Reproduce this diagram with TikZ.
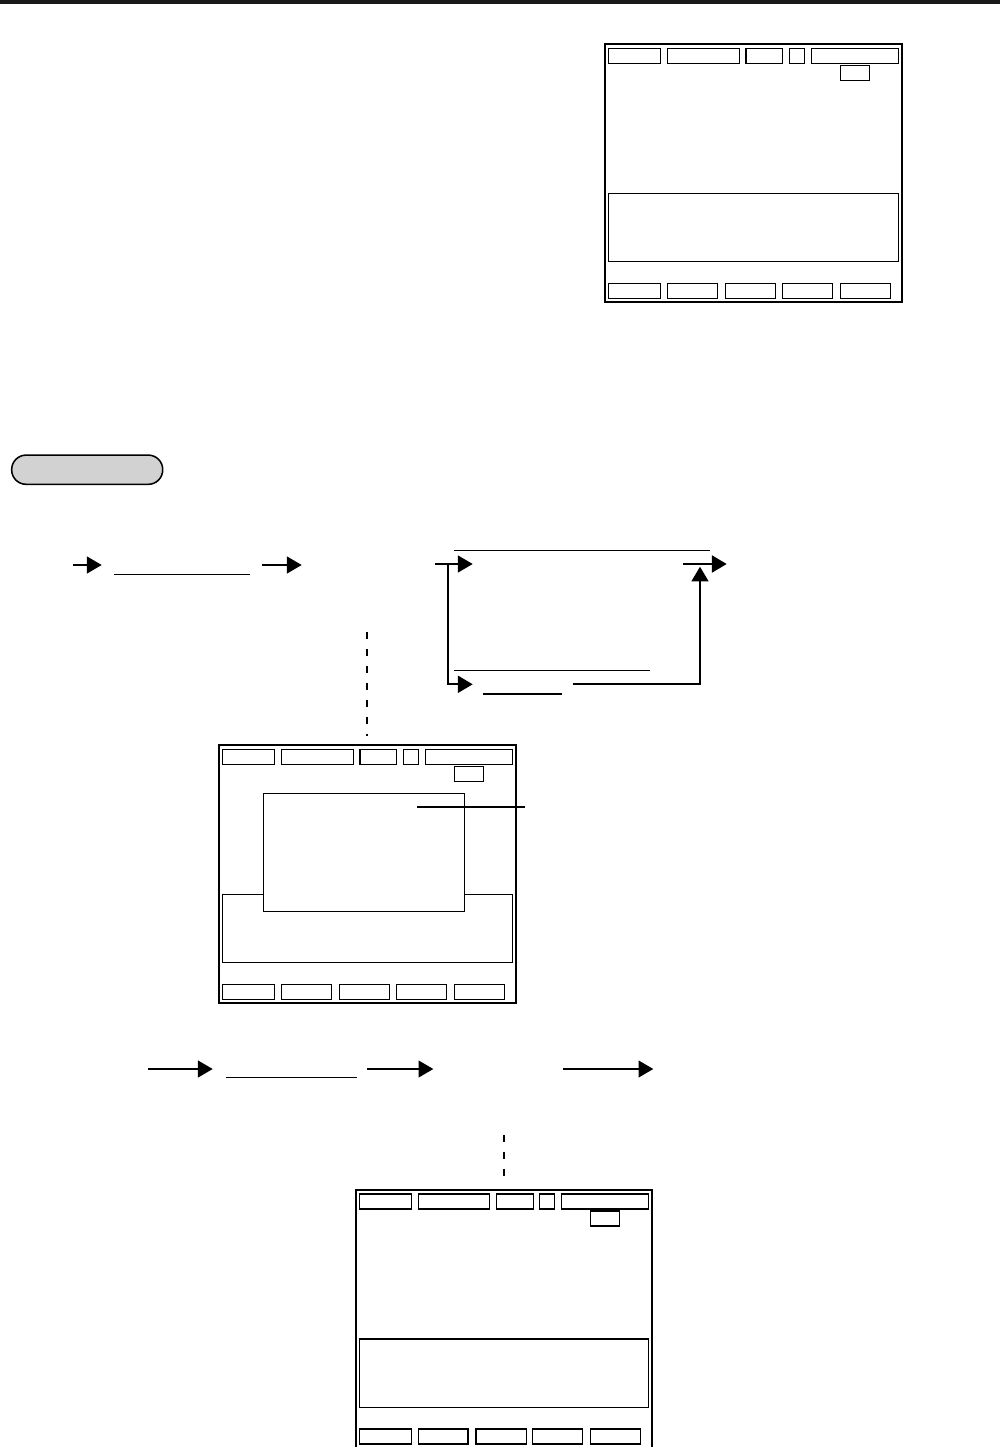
\documentclass[tikz,border=0pt]{standalone}
\usetikzlibrary{arrows.meta}

\definecolor{keygray}{RGB}{210,210,210}

% one LCD screen, drawn with its top left corner at the origin
\newcommand{\lcdpanel}{%
	\draw[panel] (0, 0) rectangle (297, 258);
	% status row
	\foreach \a/\b in {3.3/55.7, 62.3/134.3, 141/177.7, 184.3/199.3, 206.3/293.3}
		\draw[field] (\a, 4.3) rectangle (\b, 19.3);
	\draw[field] (235.3, 21.3) rectangle (264.3, 36.3);
	% message area
	\draw[field] (3.3, 149.3) rectangle (293.3, 217.7);
	% soft keys
	\foreach \a/\b in {3.3/55.7, 62.3/112.3, 120.3/170.7, 177.3/227.3, 235.3/285.3}
		\draw[field] (\a, 239.3) rectangle (\b, 254.3);
}

\begin{document}
\begin{tikzpicture}[x=0.025cm, y=-0.025cm,
		panel/.style={line width=1.5pt},
		field/.style={line width=0.8pt},
		rule/.style={line width=0.9pt},
		keybox/.style={draw, line width=1.1pt, fill=keygray, rounded corners=0.36cm,
			minimum width=3.775cm, minimum height=0.73cm, inner sep=0pt},
		flow/.style={line width=1pt, -{Triangle[length=10.5pt, width=12pt]}},
		boldflow/.style={line width=1.6pt, -{Triangle[length=10.5pt, width=12pt]}},
		guide/.style={line width=1.6pt, dash pattern=on 5pt off 7pt}]
		\useasboundingbox (0, 0) rectangle (1004, 1447);
		% header bar
		\fill[black!90] (0, 0) rectangle (1000, 3.5);
		% screens
		\begin{scope}[shift={(605, 44)}]
			\lcdpanel
		\end{scope}
		\begin{scope}[shift={(219, 745)}]
			\lcdpanel
			% pop-up window with its leader
			\draw[field, fill=white] (44.3, 48.3) rectangle (245.7, 166.7);
			\coordinate (leadA) at (198, 62);
			\coordinate (leadB) at (306, 62);
			\draw[rule] (leadA) -- (leadB);
		\end{scope}
		\begin{scope}[shift={(356.3, 1189.7)}, xscale=0.995]
			\lcdpanel
		\end{scope}
		% key button
		\node[keybox] (keybtn) at (87.2, 469.7) {};
		% first row of steps
		\coordinate (s1a) at (73.3, 565);
		\coordinate (s1b) at (101.7, 565);
		\coordinate (s1c) at (262.3, 565);
		\coordinate (s1d) at (301.7, 565);
		\draw[flow] (s1a) -- (s1b);
		\draw[rule] (114.3, 574.3) -- (250, 574.3);
		\draw[flow] (s1c) -- (s1d);
		% branch
		\coordinate (brIn) at (435, 564);
		\coordinate (brTop) at (472.7, 564);
		\coordinate (brFork) at (447.7, 564);
		\coordinate (brLow) at (472.7, 684.3);
		\coordinate (brBack) at (572.7, 684.3);
		\coordinate (brUp) at (700, 566.7);
		\coordinate (brOut) at (683.3, 564);
		\coordinate (brEnd) at (726.7, 564);
		\draw[rule] (454.3, 550.7) -- (710, 550.7);
		\draw[flow] (brIn) -- (brTop);
		\draw[boldflow] (brFork) |- (brLow);
		\draw[rule] (454.3, 670.3) -- (650, 670.3);
		\draw[rule] (483.3, 694) -- (561.7, 694);
		\draw[boldflow] (brBack) -| (brUp);
		\draw[boldflow] (brOut) -- (brEnd);
		% second row of steps
		\coordinate (s2a) at (148.3, 1069);
		\coordinate (s2b) at (212.7, 1069);
		\coordinate (s2c) at (367.3, 1069);
		\coordinate (s2d) at (433.3, 1069);
		\coordinate (s2e) at (563.3, 1069);
		\coordinate (s2f) at (653.3, 1069);
		\draw[flow] (s2a) -- (s2b);
		\draw[rule] (225.7, 1077.3) -- (356.7, 1077.3);
		\draw[flow] (s2c) -- (s2d);
		\draw[flow] (s2e) -- (s2f);
		% guides down to the screens
		\coordinate (g1a) at (366.7, 632.3);
		\coordinate (g1b) at (366.7, 736);
		\coordinate (g2a) at (504, 1135);
		\coordinate (g2b) at (504, 1180);
		\draw[guide] (g1a) -- (g1b);
		\draw[guide] (g2a) -- (g2b);
	\end{tikzpicture}
\end{document}
